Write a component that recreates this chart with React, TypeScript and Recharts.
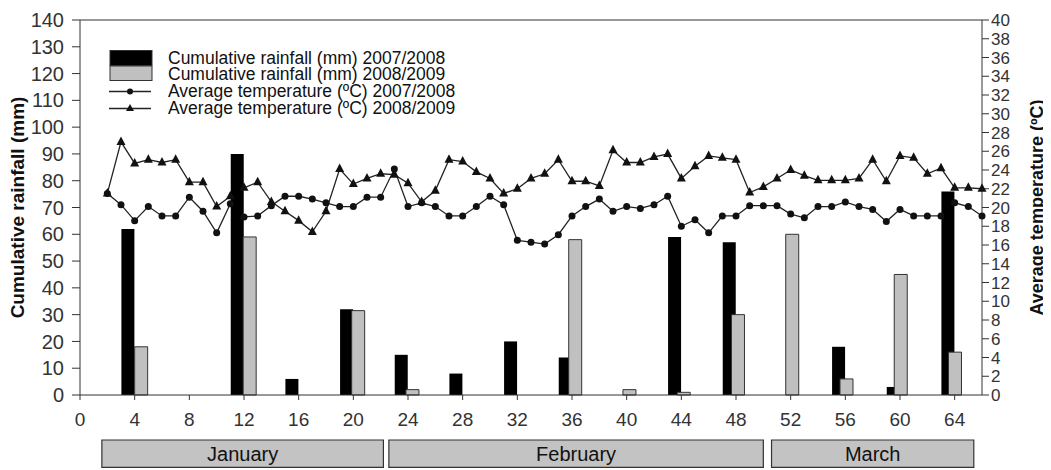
import { ComposedChart, Bar, Line, XAxis, YAxis, Legend, ReferenceArea, ReferenceLine } from 'recharts';

const FONT = '"Liberation Sans", Arial, sans-serif';
const NARROW = '"Liberation Sans Narrow", "Liberation Sans", Arial, sans-serif';

// x positions (days from start of January) of the temperature readings
const days = [
  2, 3, 4, 5, 6, 7, 8, 9, 10, 11, 12, 13, 14, 15, 16, 17, 18, 19, 20, 21, 22, 23, 24, 25, 26, 27, 28, 29, 30, 31, 32, 33,
  34, 35, 36, 37, 38, 39, 40, 41, 42, 43, 44, 45, 46, 47, 48, 49, 50, 51, 52, 53, 54, 55, 56, 57, 58, 59, 60, 61, 62, 63,
  64, 65, 66,
];

const temp0708 = [
  21.5, 20.3, 18.6, 20.1, 19.1, 19.1, 21.1, 19.6, 17.3, 20.4, 19.0, 19.1, 20.2, 21.2, 21.2, 20.9, 20.5, 20.1, 20.1, 21.1,
  21.1, 24.1, 20.1, 20.5, 20.1, 19.1, 19.1, 20.1, 21.2, 20.3, 16.5, 16.3, 16.1, 17.1, 19.1, 20.1, 20.9, 19.6, 20.1, 19.9,
  20.3, 21.2, 18.0, 18.7, 17.3, 19.1, 19.1, 20.2, 20.2, 20.2, 19.3, 18.9, 20.1, 20.1, 20.6, 20.1, 19.8, 18.5, 19.8, 19.1,
  19.1, 19.1, 20.5, 20.1, 19.1,
];

const temp0809 = [
  21.5, 27.0, 24.7, 25.1, 24.8, 25.1, 22.7, 22.7, 20.1, 21.2, 22.1, 22.7, 20.6, 19.6, 18.6, 17.4, 19.6, 24.1, 22.5, 23.1,
  23.6, 23.5, 22.6, 20.6, 21.8, 25.1, 24.9, 23.8, 23.1, 21.5, 22.0, 23.1, 23.6, 25.1, 22.8, 22.8, 22.3, 26.1, 24.8, 24.8,
  25.4, 25.7, 23.1, 24.4, 25.5, 25.3, 25.1, 21.6, 22.2, 23.1, 24.0, 23.4, 22.9, 22.9, 22.9, 23.1, 25.1, 22.8, 25.5, 25.3,
  23.6, 24.2, 22.1, 22.1, 22.0,
];

// rainfall bars, grouped on the x ticks
const rainDays = [4, 12, 16, 20, 24, 28, 32, 36, 40, 44, 48, 52, 56, 60, 64];
const rain0708 = [62, 90, 6, 32, 15, 8, 20, 14, 0, 59, 57, 0, 18, 3, 76];
const rain0809 = [18, 59, 0, 31.5, 2, 0, 0, 58, 2, 1, 30, 60, 6, 45, 16];

const xTicks = [0, 4, 8, 12, 16, 20, 24, 28, 32, 36, 40, 44, 48, 52, 56, 60, 64];
const leftTicks = [0, 10, 20, 30, 40, 50, 60, 70, 80, 90, 100, 110, 120, 130, 140];
const rightTicks = [0, 2, 4, 6, 8, 10, 12, 14, 16, 18, 20, 22, 24, 26, 28, 30, 32, 34, 36, 38, 40];

const months = ['January', 'February', 'March'];
const monthStart = [1.6, 22.6, 50.6];
const monthEnd = [22.2, 50.0, 65.4];

const legendLabels = [
  'Cumulative rainfall (mm) 2007/2008',
  'Cumulative rainfall (mm) 2008/2009',
  'Average temperature (ºC) 2007/2008',
  'Average temperature (ºC) 2008/2009',
];

const data = days.map((day, i) => {
  const k = rainDays.indexOf(day);
  return {
    day,
    t1: temp0708[i],
    t2: temp0809[i],
    r1: k >= 0 && rain0708[k] > 0 ? rain0708[k] : null,
    r2: k >= 0 && rain0809[k] > 0 ? rain0809[k] : null,
  };
});

const Triangle = (props: any) => {
  const { cx, cy } = props;
  if (cx == null || cy == null) return null;
  return <polygon points={`${cx},${cy - 5.5} ${cx - 4.5},${cy + 3} ${cx + 4.5},${cy + 3}`} fill="#111" />;
};

const LegendBox = () => (
  <div style={{ fontFamily: FONT, fontSize: 17.5, color: '#111' }}>
    {legendLabels.map((label, i) => (
      <div key={label} style={{ display: 'flex', alignItems: 'center', height: 16.7 }}>
        <svg width={44} height={17} style={{ overflow: 'visible' }}>
          {i === 0 && <rect x={1} y={1.5} width={42} height={15} fill="#000" stroke="#333" />}
          {i === 1 && <rect x={1} y={0} width={42} height={14.5} fill="#c0c0c0" stroke="#333" />}
          {i > 1 && <line x1={0} x2={42} y1={8.5} y2={8.5} stroke="#222" strokeWidth={1.3} />}
          {i === 2 && <circle cx={21} cy={8.5} r={3} fill="#111" />}
          {i === 3 && <polygon points="21,4 17,11 25,11" fill="#111" />}
        </svg>
        <span style={{ marginLeft: 15, whiteSpace: 'nowrap', lineHeight: '16.7px' }}>{label}</span>
      </div>
    ))}
  </div>
);

const App = () => {
  return (
    <div style={{ width: 1043, height: 462, background: '#fff' }}>
      <ComposedChart
        width={1043}
        height={462}
        data={data}
        barCategoryGap="3%"
        margin={{ top: 12, right: 0, left: 0, bottom: 45 }}
      >
        <XAxis
          xAxisId="main"
          dataKey="day"
          type="number"
          domain={[0, 66]}
          ticks={xTicks}
          interval={0}
          height={30}
          tickSize={5}
          tickMargin={13}
          stroke="#333"
          tick={{ fontSize: 19, fill: '#333', fontFamily: FONT }}
        />
        <XAxis xAxisId="blk" dataKey="day" type="number" domain={[0.5, 66.5]} height={0} hide />
        <XAxis xAxisId="gry" dataKey="day" type="number" domain={[-0.5, 65.5]} height={0} hide />
        <YAxis
          yAxisId="left"
          domain={[0, 140]}
          ticks={leftTicks}
          interval={0}
          width={72}
          tickSize={8}
          tickMargin={8}
          stroke="#333"
          tick={{ fontSize: 20, fill: '#333', fontFamily: FONT }}
          label={{
            value: 'Cumulative rainfall (mm)',
            angle: -90,
            position: 'insideLeft',
            offset: 9,
            style: { textAnchor: 'middle', fontWeight: 'bold', fontSize: 19, fill: '#111', fontFamily: FONT },
          }}
        />
        <YAxis
          yAxisId="right"
          orientation="right"
          domain={[0, 40]}
          ticks={rightTicks}
          interval={0}
          width={69}
          tickSize={7}
          tickMargin={2}
          stroke="#333"
          tick={{ fontSize: 17, fill: '#333', fontFamily: NARROW }}
          label={{
            value: 'Average temperature (ºC)',
            angle: -90,
            position: 'insideRight',
            offset: 14,
            style: { textAnchor: 'middle', fontWeight: 'bold', fontSize: 18, fill: '#111', fontFamily: FONT },
          }}
        />
        <ReferenceLine xAxisId="main" yAxisId="left" y={140} stroke="#333" />
        {months.map((m, i) => (
          <ReferenceArea
            key={m}
            xAxisId="main"
            yAxisId="left"
            x1={monthStart[i]}
            x2={monthEnd[i]}
            y1={-16.8}
            y2={-27}
            ifOverflow="visible"
            fill="#c3c3c3"
            fillOpacity={1}
            stroke="#333"
            strokeWidth={1.2}
            label={{ value: m, position: 'center', fontSize: 20, fill: '#111', fontFamily: FONT }}
          />
        ))}
        <Legend verticalAlign="middle" align="center" content={<LegendBox />} wrapperStyle={{ left: 101, top: 41.6, width: 'auto' }} />
        <Line
          xAxisId="main"
          yAxisId="right"
          dataKey="t1"
          stroke="#222"
          strokeWidth={1.3}
          dot={{ r: 3.5, fill: '#111', stroke: '#111', strokeWidth: 0 }}
          isAnimationActive={false}
        />
        <Line
          xAxisId="main"
          yAxisId="right"
          dataKey="t2"
          stroke="#222"
          strokeWidth={1.3}
          dot={<Triangle />}
          isAnimationActive={false}
        />
        <Bar xAxisId="blk" yAxisId="left" dataKey="r1" fill="#000" zIndex={450} isAnimationActive={false} />
        <Bar xAxisId="gry" yAxisId="left" dataKey="r2" fill="#c0c0c0" stroke="#333" zIndex={450} isAnimationActive={false} />
      </ComposedChart>
    </div>
  );
};

export default App;
